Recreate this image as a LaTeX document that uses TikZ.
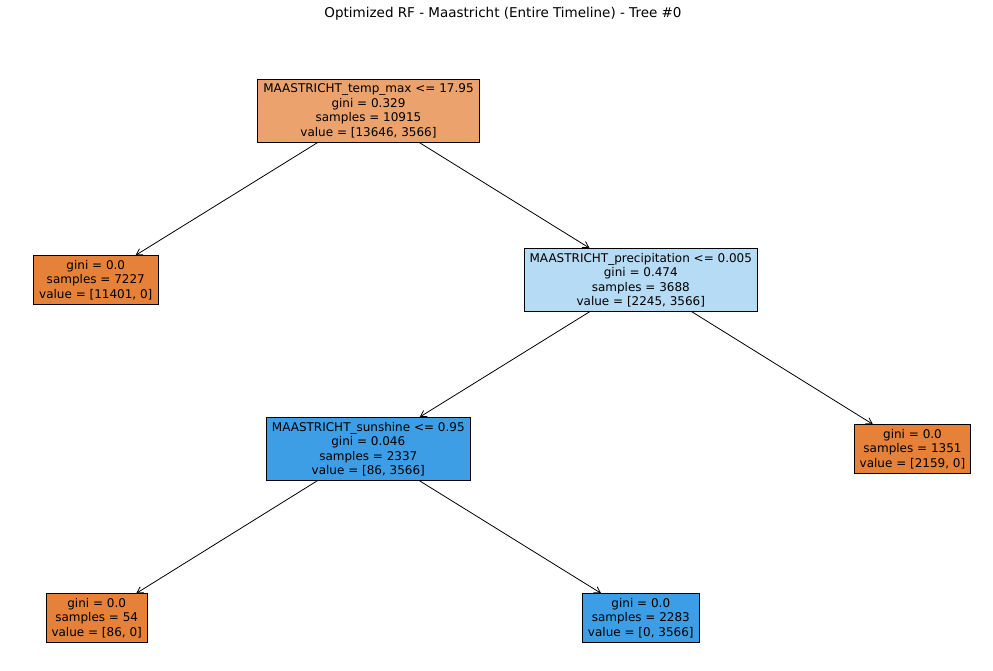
\documentclass[tikz,border=0pt]{standalone}
\usepackage{fontspec}
\setmainfont{DejaVu Sans}
\usepackage{tikz}
\usetikzlibrary{arrows,arrows.meta,shapes}
\definecolor{orfull}{RGB}{229,129,57}
\definecolor{orroot}{RGB}{236,162,109}
\definecolor{blfull}{RGB}{61,158,229}
\definecolor{bllite}{RGB}{182,219,245}
\tikzstyle{hit}=[-{Straight Barb[length=6pt,width=7pt]},line width=0.8pt,shorten >=1pt]
\tikzstyle{nd}=[rectangle,draw=black,line width=0.8pt,align=center,
                inner xsep=5.5pt,inner ysep=4.3pt,outer sep=0pt,
                font=\fontsize{12}{14.5}\selectfont]

\begin{document}
\begin{tikzpicture}[x=1pt,y=-1pt]
\useasboundingbox (0,0) rectangle (993,671);
\node[font=\fontsize{13.5}{16}\selectfont] (title) at (503,14) {Optimized RF - Maastricht (Entire Timeline) - Tree \#0};
\node[nd,fill=orroot] (root) at (368.5,111) {MAASTRICHT\_temp\_max <= 17.95\\gini = 0.329\\samples = 10915\\value = [13646, 3566]};
\node[nd,fill=orfull] (l1) at (95.8,280) {gini = 0.0\\samples = 7227\\value = [11401, 0]};
\node[nd,fill=bllite] (prec) at (640.8,280) {MAASTRICHT\_precipitation <= 0.005\\gini = 0.474\\samples = 3688\\value = [2245, 3566]};
\node[nd,fill=blfull] (sun) at (368.3,449) {MAASTRICHT\_sunshine <= 0.95\\gini = 0.046\\samples = 2337\\value = [86, 3566]};
\node[nd,fill=orfull] (l2) at (912.5,449) {gini = 0.0\\samples = 1351\\value = [2159, 0]};
\node[nd,fill=orfull] (l3) at (96.7,618) {gini = 0.0\\samples = 54\\value = [86, 0]};
\node[nd,fill=blfull] (l4) at (640.8,618) {gini = 0.0\\samples = 2283\\value = [0, 3566]};
\draw[hit] (root) -- (l1);
\draw[hit] (root) -- (prec);
\draw[hit] (prec) -- (sun);
\draw[hit] (prec) -- (l2);
\draw[hit] (sun) -- (l3);
\draw[hit] (sun) -- (l4);
\end{tikzpicture}
\end{document}
